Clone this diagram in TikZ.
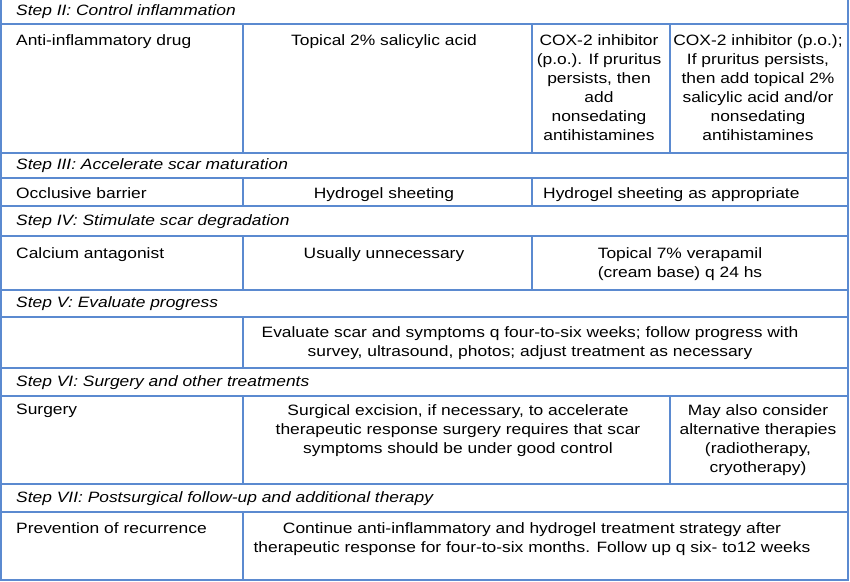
\documentclass[tikz,border=0pt]{standalone}
\usepackage{fontspec}
\setmainfont{Liberation Sans}[FakeStretch=1.16]
\begin{document}
\begin{tikzpicture}[x=1pt,y=-1pt,
 ln/.style={draw=tblue,line width=1.6pt},
 hd/.style={anchor=west,font=\fontsize{15}{19}\selectfont\itshape,inner sep=0},
 tx/.style={anchor=north,font=\fontsize{15}{19}\selectfont,align=center,inner sep=0},
 lt/.style={anchor=north west,font=\fontsize{15}{19}\selectfont,inner sep=0}]
\definecolor{tblue}{HTML}{5B8AD0}
\useasboundingbox (0,0) rectangle (850,581);
% outer frame
\draw[ln] (1,0) -- (1,580) -- (848,580) -- (848,0);
% horizontal lines
\foreach \y in {24,178,236,317,396,512} \draw[ln,line width=1.2pt] (1,\y) -- (848,\y);
\foreach \y in {153,206,290,368,484} \draw[ln,line width=2.4pt] (1,\y) -- (848,\y);
% vertical lines
\draw[ln] (243,24) -- (243,153) (532,24) -- (532,153) (670,24) -- (670,153);
\draw[ln] (243,178) -- (243,206) (532,178) -- (532,206);
\draw[ln] (243,236) -- (243,290) (532,236) -- (532,290);
\draw[ln] (243,317) -- (243,368);
\draw[ln] (243,396) -- (243,484) (670,396) -- (670,484);
\draw[ln] (243,512) -- (243,580);
% headers
\node[hd] (h2) at (16,12) {Step II: Control inflammation};
\node[hd] (h3) at (16,166) {Step III: Accelerate scar maturation};
\node[hd] (h4) at (16,222) {Step IV: Stimulate scar degradation};
\node[hd] (h5) at (16,304) {Step V: Evaluate progress};
\node[hd] (h6) at (16,383) {Step VI: Surgery and other treatments};
\node[hd] (h7) at (16,499) {Step VII: Postsurgical follow-up and additional therapy};
% row II
\node[lt] (a1) at (16,34) {Anti-inflammatory drug};
\node[tx] (a2) at (384,34) {Topical 2\% salicylic acid};
\node[tx] (a3) at (599,34) {COX-2 inhibitor\\(p.o.). If pruritus\\persists, then\\add\\nonsedating\\antihistamines};
\node[tx] (a4) at (758,34) {COX-2 inhibitor (p.o.);\\If pruritus persists,\\then add topical 2\%\\salicylic acid and/or\\nonsedating\\antihistamines};
% row III
\node[lt] (b1) at (16,187) {Occlusive barrier};
\node[tx] (b2) at (384,187) {Hydrogel sheeting};
\node[lt] (b3) at (543,187) {Hydrogel sheeting as appropriate};
% row IV
\node[lt] (c1) at (16,247) {Calcium antagonist};
\node[tx] (c2) at (384,247) {Usually unnecessary};
\node[tx] (c3) at (680,247) {Topical 7\% verapamil\\(cream base) q 24 hs};
% row V
\node[tx] (d2) at (530,326) {Evaluate scar and symptoms q four-to-six weeks; follow progress with\\survey, ultrasound, photos; adjust treatment as necessary};
% row VI
\node[lt] (e1) at (16,404) {Surgery};
\node[tx] (e2) at (458,404) {Surgical excision, if necessary, to accelerate\\therapeutic response surgery requires that scar\\symptoms should be under good control};
\node[tx] (e3) at (758,404) {May also consider\\alternative therapies\\(radiotherapy,\\cryotherapy)};
% row VII
\node[lt] (f1) at (16,522) {Prevention of recurrence};
\node[tx] (f2) at (532,522) {Continue anti-inflammatory and hydrogel treatment strategy after\\therapeutic response for four-to-six months. Follow up q six- to12 weeks};
\end{tikzpicture}
\end{document}
